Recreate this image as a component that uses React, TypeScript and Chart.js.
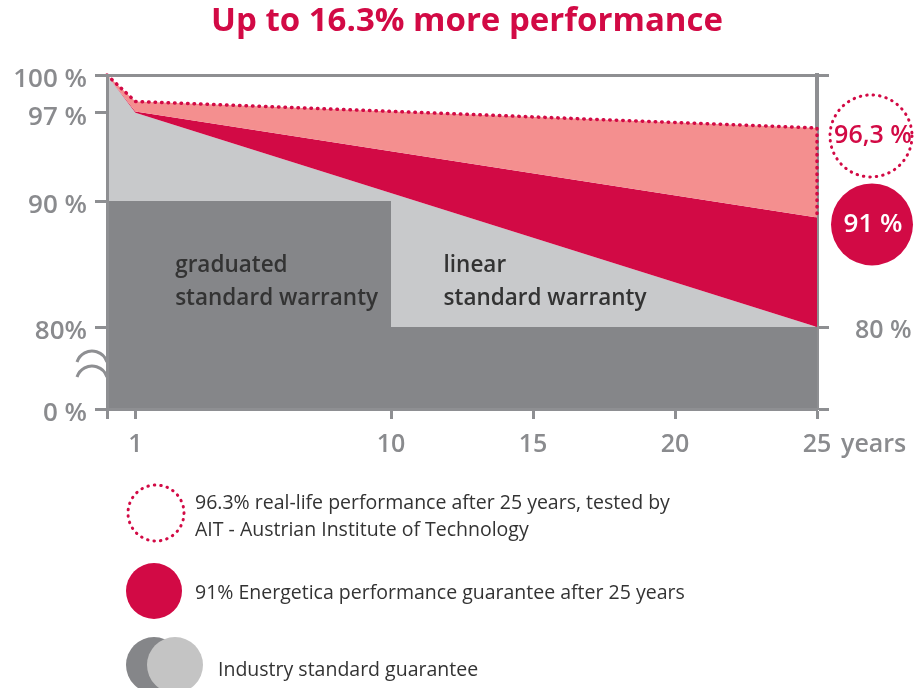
import React, { useEffect, useRef } from "react";
import { Chart, registerables } from "chart.js";
Chart.register(...registerables);

const titleText = "Up to 16.3% more performance";
const yearTicks = [0, 1, 10, 15, 20, 25];
const yearLabels = ["", "1", "10", "15", "20", "25"];
const yearUnit = "years";
const percentTicks = [0, 80, 90, 97, 100];
const percentLabels = ["0 %", "80%", "90 %", "97 %", "100 %"];
const rightTicks = [0, 80, 100];
const rightLabels = ["", "80 %", ""];

const graduatedYears = [0, 10, 10, 25];
const graduatedValues = [90, 90, 80, 80];
const linearYears = [0, 1, 25];
const linearValues = [100, 97, 80];
const guaranteeYears = [0, 1, 25];
const guaranteeValues = [100, 97.1, 88.7];
const realLifeYears = [0, 1, 25];
const realLifeValues = [100, 97.9, 95.8];
const outlineYears = [0, 1, 25, 25];
const outlineValues = [100, 97.9, 95.8, 88.7];

const bubbleLabels = ["96,3 %", "91 %"];
const areaLabels = [
  ["graduated", "standard warranty"],
  ["linear", "standard warranty"],
];
const areaLabelYears = [2.4, 11.85];
const legendLines = [
  ["96.3% real-life performance after 25 years, tested by", "AIT - Austrian Institute of Technology"],
  ["91% Energetica performance guarantee after 25 years"],
  ["Industry standard guarantee"],
];

const CRIMSON = "#d20a45";
const PINK = "#f48f8f";
const DARK = "#858689";
const LIGHT = "#c8c9cb";
const AXIS = "#8e8f92";
const LABEL = "#8a8b8e";
const TEXT = "#333333";
const FONT = "'Open Sans', 'Noto Sans', sans-serif";

const BREAK = 80;
const LOWER = 6.5;
const toAxis = (v: number) => (v >= BREAK ? v : BREAK - ((BREAK - v) * LOWER) / BREAK);
const pts = (xs: number[], ys: number[]) => xs.map((x, i) => ({ x, y: toAxis(ys[i]) }));

const decor = {
  id: "decor",
  afterDraw(chart: any) {
    const ctx = chart.ctx;
    const xs = chart.scales.x;
    const ys = chart.scales.y;
    const area = chart.chartArea;
    ctx.save();
    // title
    ctx.fillStyle = CRIMSON;
    ctx.font = `700 33px ${FONT}`;
    ctx.textAlign = "center";
    ctx.textBaseline = "middle";
    ctx.fillText(titleText, 467, 22);

    // axis break
    ctx.strokeStyle = AXIS;
    ctx.lineWidth = 3;
    [351, 366].forEach((peak) => {
      const r = 15.7;
      const a = Math.asin(15 / r);
      ctx.beginPath();
      ctx.arc(area.left - 15, peak + r, r, -Math.PI / 2 - a, -Math.PI / 2 + a);
      ctx.stroke();
    });

    // years
    ctx.fillStyle = LABEL;
    ctx.font = `600 25px ${FONT}`;
    ctx.textAlign = "left";
    ctx.fillText(yearUnit, xs.getPixelForValue(25) + 24, 445);

    // area labels
    ctx.fillStyle = TEXT;
    ctx.font = `600 22.5px ${FONT}`;
    areaLabels.forEach((lines, i) => {
      const x = xs.getPixelForValue(areaLabelYears[i]);
      lines.forEach((t, j) => ctx.fillText(t, x, 266 + j * 33));
    });

    // bubbles
    const bx = area.right + 54;
    const by1 = ys.getPixelForValue(toAxis(realLifeValues[2])) + 8;
    const by2 = ys.getPixelForValue(toAxis(guaranteeValues[2])) + 7;
    ctx.strokeStyle = CRIMSON;
    ctx.lineWidth = 3;
    ctx.lineCap = "round";
    ctx.setLineDash([0.5, 6]);
    ctx.beginPath();
    ctx.arc(bx, by1, 41, 0, Math.PI * 2);
    ctx.stroke();
    ctx.setLineDash([]);
    ctx.fillStyle = CRIMSON;
    ctx.beginPath();
    ctx.arc(bx + 1, by2, 41, 0, Math.PI * 2);
    ctx.fill();
    ctx.textAlign = "center";
    ctx.font = `600 25px ${FONT}`;
    ctx.fillStyle = CRIMSON;
    ctx.fillText(bubbleLabels[0], bx + 2, by1);
    ctx.font = `600 26px ${FONT}`;
    ctx.fillStyle = "#ffffff";
    ctx.fillText(bubbleLabels[1], bx + 2, by2);

    // legend
    ctx.strokeStyle = CRIMSON;
    ctx.setLineDash([0.5, 6]);
    ctx.lineWidth = 3;
    ctx.beginPath();
    ctx.arc(156, 513, 28, 0, Math.PI * 2);
    ctx.stroke();
    ctx.setLineDash([]);
    ctx.fillStyle = CRIMSON;
    ctx.beginPath();
    ctx.arc(154, 591, 28, 0, Math.PI * 2);
    ctx.fill();
    ctx.fillStyle = DARK;
    ctx.beginPath();
    ctx.arc(154, 665, 28, 0, Math.PI * 2);
    ctx.fill();
    ctx.fillStyle = "#c4c4c4";
    ctx.beginPath();
    ctx.arc(175, 665, 28, 0, Math.PI * 2);
    ctx.fill();

    ctx.fillStyle = TEXT;
    ctx.font = `400 19.5px ${FONT}`;
    ctx.textAlign = "left";
    legendLines[0].forEach((t, j) => ctx.fillText(t, 195, 503 + j * 27));
    ctx.fillText(legendLines[1][0], 195, 593);
    ctx.fillText(legendLines[2][0], 218, 670);
    ctx.restore();
  },
};

export default function App() {
  const ref = useRef<HTMLCanvasElement>(null);
  useEffect(() => {
    if (!ref.current) return;
    const chart = new Chart(ref.current, {
      type: "line",
      data: {
        datasets: [
          {
            data: pts(outlineYears, outlineValues),
            borderColor: CRIMSON,
            borderWidth: 3.5,
            borderDash: [0.5, 6],
            borderCapStyle: "round",
            fill: false,
            pointRadius: 0,
            clip: false,
          } as any,
          {
            data: pts(graduatedYears, graduatedValues),
            backgroundColor: DARK,
            borderColor: "transparent",
            borderWidth: 0,
            fill: "start",
            pointRadius: 0,
          },
          {
            data: pts(realLifeYears, realLifeValues),
            backgroundColor: PINK,
            borderColor: "transparent",
            borderWidth: 0,
            fill: 3,
            pointRadius: 0,
          },
          {
            data: pts(guaranteeYears, guaranteeValues),
            backgroundColor: CRIMSON,
            borderColor: "transparent",
            borderWidth: 0,
            fill: 4,
            pointRadius: 0,
          },
          {
            data: pts(linearYears, linearValues),
            backgroundColor: LIGHT,
            borderColor: "transparent",
            borderWidth: 0,
            fill: "start",
            pointRadius: 0,
          },
        ],
      },
      options: {
        animation: false,
        responsive: true,
        maintainAspectRatio: false,
        events: [],
        layout: { padding: { top: 75, left: 0, right: 0, bottom: 0 } },
        plugins: { legend: { display: false }, tooltip: { enabled: false } },
        scales: {
          x: {
            type: "linear",
            min: 0,
            max: 25,
            afterBuildTicks: (s: any) => {
              s.ticks = yearTicks.map((v) => ({ value: v }));
            },
            afterFit: (s: any) => {
              s.height = 279;
            },
            ticks: {
              callback: (_v: any, i: number) => yearLabels[i],
              color: LABEL,
              font: { family: FONT, size: 25, weight: "600" },
              padding: 11,
              maxRotation: 0,
              autoSkip: false,
            },
            grid: { color: "transparent", tickColor: AXIS, tickLength: 10, tickWidth: 3, z: 1 },
            border: { color: AXIS, width: 3, z: 1 },
          },
          y: {
            type: "linear",
            position: "left",
            min: toAxis(0),
            max: 100,
            afterBuildTicks: (s: any) => {
              s.ticks = percentTicks.map((v) => ({ value: toAxis(v) }));
            },
            afterFit: (s: any) => {
              s.width = 107;
            },
            ticks: {
              callback: (_v: any, i: number) => percentLabels[i],
              color: LABEL,
              font: { family: FONT, size: 26, weight: "600" },
              padding: 8,
              labelOffset: 5,
              autoSkip: false,
            },
            grid: {
              color: (c: any) => (c.tick && c.tick.value === 100 ? AXIS : "transparent"),
              lineWidth: 3,
              tickColor: AXIS,
              tickLength: 12,
              tickWidth: 3,
              z: 1,
            },
            border: { color: AXIS, width: 3, z: 1 },
          },
          y2: {
            type: "linear",
            position: "right",
            min: toAxis(0),
            max: 100,
            afterBuildTicks: (s: any) => {
              s.ticks = rightTicks.map((v) => ({ value: toAxis(v) }));
            },
            afterFit: (s: any) => {
              s.width = 102;
            },
            ticks: {
              callback: (_v: any, i: number) => rightLabels[i],
              color: LABEL,
              font: { family: FONT, size: 25, weight: "600" },
              padding: 26,
              labelOffset: 4,
              autoSkip: false,
            },
            grid: {
              drawOnChartArea: false,
              color: "transparent",
              tickColor: AXIS,
              tickLength: 12,
              tickWidth: 3,
            },
            border: { color: AXIS, width: 4, z: 0 },
          },
        },
      } as any,
      plugins: [decor],
    });
    return () => chart.destroy();
  }, []);
  return (
    <div style={{ position: "absolute", left: 0, top: 0, width: 919, height: 688, background: "#fff" }}>
      <canvas ref={ref} />
    </div>
  );
}
